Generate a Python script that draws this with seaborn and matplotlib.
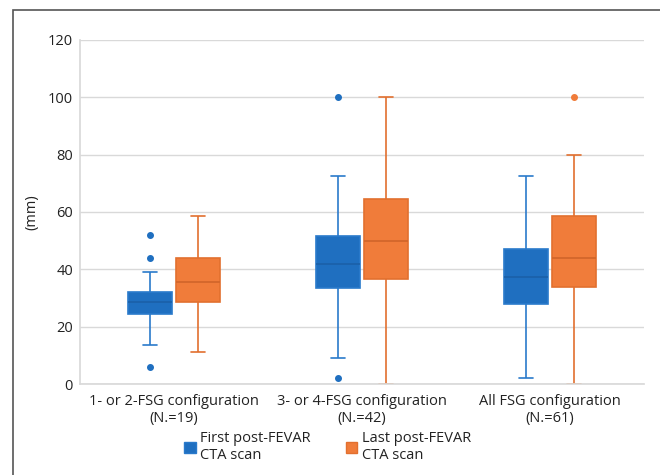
import numpy as np
import pandas as pd
import matplotlib
matplotlib.use("Agg")
import matplotlib.pyplot as plt
import seaborn as sns
from matplotlib.patches import Rectangle

# ---- data ----
groups = ["1- or 2-FSG configuration\n(N.=19)",
          "3- or 4-FSG configuration\n(N.=42)",
          "All FSG configuration\n(N.=61)"]
series = ["First post-FEVAR\nCTA scan", "Last post-FEVAR\nCTA scan"]

first_low = [13.5, 9.0, 2.0]
first_q1 = [24.5, 33.5, 28.0]
first_med = [28.5, 42.0, 37.5]
first_q3 = [32.0, 51.5, 47.0]
first_high = [39.0, 72.5, 72.5]
first_out_low = [[6.0], [2.0], []]
first_out_high = [[44.0, 52.0], [100.0], []]

last_low = [11.0, 0.0, 0.0]
last_q1 = [28.5, 36.5, 34.0]
last_med = [35.5, 50.0, 44.0]
last_q3 = [44.0, 64.5, 58.5]
last_high = [58.5, 100.0, 80.0]
last_out_low = [[], [], []]
last_out_high = [[], [], [100.0]]

yticks = [0, 20, 40, 60, 80, 100, 120]

blue_fill, blue_line = "#1f6fc0", "#2a7acb"
orange_fill, orange_line = "#f07c3a", "#e2702f"


def sample_from_stats(low, q1, med, q3, high, out_lo, out_hi):
    """Build a sample whose quartiles/whiskers reproduce the read statistics."""
    k = max(len(out_lo) + 1, len(out_hi) + 1, 2)
    vals = list(out_lo) + [low] + [q1] * (k - len(out_lo) - 1)
    vals += [q1] + [med] * (k - 1)
    vals += [med] + [q3] * (k - 1)
    vals += [q3] + [q3] * (k - len(out_hi) - 1) + [high] + list(out_hi)
    return vals


rows = []
for gi, g in enumerate(groups):
    for v in sample_from_stats(first_low[gi], first_q1[gi], first_med[gi], first_q3[gi],
                               first_high[gi], first_out_low[gi], first_out_high[gi]):
        rows.append((g, series[0], v))
    for v in sample_from_stats(last_low[gi], last_q1[gi], last_med[gi], last_q3[gi],
                               last_high[gi], last_out_low[gi], last_out_high[gi]):
        rows.append((g, series[1], v))
df = pd.DataFrame(rows, columns=["group", "series", "value"])

sns.set_theme(style="white")
plt.rcParams["font.family"] = ["Open Sans", "DejaVu Sans"]

fig = plt.figure(figsize=(6.6, 4.75), dpi=100)
W, H = 660, 475
ax = fig.add_axes([80 / W, 1 - 384 / H, 564 / W, 344 / H])

sns.boxplot(data=df, x="group", y="value", hue="series", order=groups,
            hue_order=series, palette=[blue_fill, orange_fill], saturation=1,
            width=0.51, gap=0.08, whis=1.5, linewidth=1.2,
            flierprops=dict(marker="o", markersize=4), ax=ax, legend=True)

fills = [blue_fill, orange_fill]
lines = [blue_line, orange_line]
meds = ["#1b60a8", "#d0652a"]
for cont, fc, lc, mc in zip(ax.containers, fills, lines, meds):
    for b in cont.boxes:
        b.set_facecolor(fc)
        b.set_edgecolor(lc)
        b.set_linewidth(1.2)
    for w in cont.whiskers:
        w.set_color(lc)
        w.set_linewidth(1.2)
    for c in cont.caps:
        c.set_color(lc)
        c.set_linewidth(1.2)
        xd = c.get_xdata()
        xm = np.mean(xd)
        c.set_xdata([xm - 0.037, xm + 0.037])
    for m in cont.medians:
        m.set_color(mc)
        m.set_linewidth(1.2)
    for f in cont.fliers:
        f.set_markerfacecolor(fc)
        f.set_markeredgecolor(fc)

ax.set_ylim(0, 120)
ax.set_xlim(-0.5, 2.5)
ax.set_yticks(yticks)
ax.set_yticklabels([str(t) for t in yticks], fontsize=10.5, color="#222222")
ax.tick_params(axis="x", labelsize=10.5, colors="#222222", pad=7, length=0)
ax.tick_params(axis="y", pad=5, length=0)
ax.yaxis.grid(True, color="#d9d9d9", linewidth=1.0)
ax.set_axisbelow(True)
ax.set_xlabel("")
ax.set_ylabel("(mm)", fontsize=10.5, color="#222222", labelpad=6)
for s in ["top", "right"]:
    ax.spines[s].set_visible(False)
ax.spines["left"].set_color("#d9d9d9")
ax.spines["bottom"].set_color("#d9d9d9")
for lab in ax.get_xticklabels():
    lab.set_linespacing(1.25)

leg = ax.legend(loc="upper left", bbox_to_anchor=(184 / W, 1 - 431 / H),
                bbox_transform=fig.transFigure, ncol=2, frameon=False,
                fontsize=10.5, handlelength=0.8, handleheight=0.8,
                handletextpad=0.3, columnspacing=2.4, labelspacing=0.2,
                borderpad=0, borderaxespad=0)
for t in leg.get_texts():
    t.set_linespacing(1.2)
    t.set_color("#222222")
for h, lc in zip(leg.legend_handles, lines):
    h.set_edgecolor(lc)
    h.set_linewidth(1.0)

# outer frame of the original figure
fig.patches.append(Rectangle((12.5 / W, -0.1), 1.2, 1 - 9.5 / H + 0.1,
                             transform=fig.transFigure, fill=False,
                             edgecolor="#555555", linewidth=1.2))

fig.savefig("out.png", dpi=100)
